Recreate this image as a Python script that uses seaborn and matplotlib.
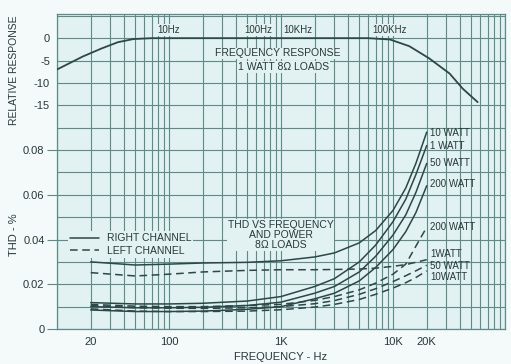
import numpy as np
import pandas as pd
import matplotlib
matplotlib.use("Agg")
import matplotlib.pyplot as plt
import seaborn as sns
from matplotlib.ticker import LogLocator, NullFormatter
from matplotlib.lines import Line2D

# --- data ---
# frequency response curve (1 W, 8 ohm), plotted on the shared log axis
resp_freq = [10, 17, 25, 35, 48, 70, 1000, 6000, 9400, 14000, 21000, 32000, 42000, 57000]
resp_db = [-7.0, -4.1, -2.3, -0.9, -0.2, 0.0, 0.0, 0.0, -0.3, -1.8, -4.5, -7.9, -11.3, -14.3]

# THD vs frequency
thd_freq = [20, 50, 100, 200, 500, 1000, 2000, 3000, 5000, 7000, 10000, 13000, 16000, 20000]
right_10w = [0.0300, 0.0286, 0.0290, 0.0295, 0.0298, 0.0305, 0.0322, 0.0340, 0.0385, 0.0440, 0.0530, 0.0630, 0.0740, 0.0880]
right_1w = [0.0118, 0.0112, 0.0112, 0.0115, 0.0125, 0.0145, 0.0190, 0.0225, 0.0300, 0.0375, 0.0480, 0.0580, 0.0690, 0.0820]
right_50w = [0.0100, 0.0095, 0.0095, 0.0097, 0.0105, 0.0120, 0.0160, 0.0190, 0.0255, 0.0325, 0.0420, 0.0510, 0.0610, 0.0740]
right_200w = [0.0085, 0.0078, 0.0078, 0.0080, 0.0088, 0.0100, 0.0135, 0.0160, 0.0215, 0.0275, 0.0355, 0.0435, 0.0520, 0.0640]
left_1w = [0.0252, 0.0237, 0.0245, 0.0255, 0.0262, 0.0265, 0.0265, 0.0266, 0.0268, 0.0272, 0.0280, 0.0288, 0.0298, 0.0310]
left_200w = [0.0110, 0.0102, 0.0100, 0.0100, 0.0105, 0.0110, 0.0128, 0.0145, 0.0175, 0.0205, 0.0245, 0.0290, 0.0370, 0.0455]
left_50w = [0.0105, 0.0095, 0.0093, 0.0092, 0.0095, 0.0100, 0.0113, 0.0127, 0.0155, 0.0180, 0.0212, 0.0238, 0.0260, 0.0285]
left_10w = [0.0090, 0.0080, 0.0078, 0.0078, 0.0080, 0.0086, 0.0098, 0.0110, 0.0132, 0.0155, 0.0183, 0.0207, 0.0230, 0.0260]

curve_names = ["R 10W", "R 1W", "R 50W", "R 200W", "L 1W", "L 200W", "L 50W", "L 10W"]
curve_channels = ["RIGHT CHANNEL"] * 4 + ["LEFT CHANNEL"] * 4
curve_values = [right_10w, right_1w, right_50w, right_200w, left_1w, left_200w, left_50w, left_10w]

# end labels on the right
end_labels = ["10 WATT", "1 WATT", "50 WATT", "200 WATT", "200 WATT", "1WATT", "50 WATT", "10WATT"]
end_label_thd = [0.0876, 0.0818, 0.0742, 0.0648, 0.0456, 0.0335, 0.0282, 0.0232]

# axis ticks
x_tick_freq = [20, 100, 1000, 10000, 20000]
x_tick_text = ["20", "100", "1K", "10K", "20K"]
thd_ticks = [0, 0.02, 0.04, 0.06, 0.08]
thd_tick_text = ["0", "0.02", "0.04", "0.06", "0.08"]
resp_ticks = [0, -5, -10, -15]
resp_tick_text = ["0", "-5", "-10", "-15"]
top_label_text = ["10Hz", "100Hz", "10KHz", "100KHz"]
top_label_freq = [99, 627, 1420, 9380]

# --- styling ---
bg_plot = "#e2f1f1"
bg_fig = "#f4f9f9"
grid_col = "#5f8a8a"
ink = "#263838"
line_col = "#2c4747"

sns.set_theme(style="ticks")
plt.rcParams["font.family"] = ["Liberation Sans", "DejaVu Sans"]

rows = []
for name, chan, vals in zip(curve_names, curve_channels, curve_values):
    for f, v in zip(thd_freq, vals):
        rows.append({"freq": f, "thd": v, "curve": name, "channel": chan})
thd_df = pd.DataFrame(rows)

fig = plt.figure(figsize=(5.11, 3.64), dpi=100, facecolor=bg_fig)
ax = fig.add_axes([57 / 511, 35 / 364, 448 / 511, 315 / 364])
ax.set_facecolor(bg_plot)
ax.set_xscale("log")

sns.lineplot(data=thd_df, x="freq", y="thd", units="curve", estimator=None,
             style="channel", dashes={"RIGHT CHANNEL": "", "LEFT CHANNEL": (5, 3)},
             color=line_col, linewidth=1.1, legend=False, ax=ax)

ax.set_xlim(10, 100000)
ax.set_ylim(0, 0.1408)
ax.set_xticks(x_tick_freq)
ax.set_xticklabels(x_tick_text)
ax.xaxis.set_minor_locator(LogLocator(base=10, subs=np.arange(1, 10)))
ax.xaxis.set_minor_formatter(NullFormatter())
ax.set_yticks(thd_ticks)
ax.set_yticklabels(thd_tick_text)
ax.set_yticks(np.arange(0, 0.1405, 0.01), minor=True)
ax.grid(True, which="both", color=grid_col, linewidth=0.8)
ax.tick_params(axis="x", which="both", length=0, pad=6, labelsize=8, colors=ink)
ax.tick_params(axis="y", which="major", length=7, width=0.8, color=grid_col, pad=2, labelsize=8, labelcolor=ink)
ax.tick_params(axis="y", which="minor", length=0)
for s in ax.spines.values():
    s.set_color(grid_col)
    s.set_linewidth(0.9)
ax.set_xlabel("FREQUENCY - Hz", fontsize=8, color=ink, labelpad=3)
ax.set_ylabel("THD - %", fontsize=8, color=ink)
ax.yaxis.set_label_coords(-0.085, 0.30)

# relative response on a twin axis, labelled on the left
ax2 = ax.twinx()
ax2.set_ylim(-65, 5.4)
sns.lineplot(x=resp_freq, y=resp_db, color=line_col, linewidth=1.3, ax=ax2)
ax2.set_yticks(resp_ticks)
ax2.set_yticklabels(resp_tick_text)
ax2.yaxis.set_ticks_position("left")
ax2.yaxis.set_label_position("left")
ax2.tick_params(axis="y", length=0, pad=5, labelsize=8, labelcolor=ink)
ax2.grid(False)
for s in ax2.spines.values():
    s.set_visible(False)
ax2.set_ylabel("RELATIVE RESPONSE", fontsize=7.5, color=ink)
ax2.yaxis.set_label_coords(-0.085, 0.82)

for txt, f in zip(top_label_text, top_label_freq):
    ax2.text(f, 1.8, txt, ha="center", va="center", fontsize=7, color=ink,
             bbox=dict(facecolor=bg_plot, edgecolor="none", pad=0.6))
ax2.text(935, -3.4, "FREQUENCY RESPONSE", ha="center", va="center", fontsize=7.5, color=ink,
         bbox=dict(facecolor=bg_plot, edgecolor="none", pad=0.6))
ax2.text(1050, -6.4, "1 WATT 8Ω LOADS", ha="center", va="center", fontsize=7.5, color=ink,
         bbox=dict(facecolor=bg_plot, edgecolor="none", pad=0.6))

ax.text(990, 0.042, "THD VS FREQUENCY\nAND POWER\n8Ω LOADS", ha="center", va="center",
        fontsize=7.5, color=ink, linespacing=1.0,
        bbox=dict(facecolor=bg_plot, edgecolor="none", pad=0.6))

for txt, v in zip(end_labels, end_label_thd):
    ax.text(21500, v, txt, ha="left", va="center", fontsize=7, color=ink)

handles = [Line2D([], [], color=line_col, lw=1.1, linestyle="-"),
           Line2D([], [], color=line_col, lw=1.1, dashes=(5, 3))]
leg = ax.legend(handles, ["RIGHT CHANNEL", "LEFT CHANNEL"], loc="upper left",
                bbox_to_anchor=(0.025, 0.31), fontsize=7.5, handlelength=2.8,
                handletextpad=0.7, labelspacing=0.2, borderpad=0.2, borderaxespad=0,
                frameon=True, fancybox=False)
leg.get_frame().set_facecolor(bg_plot)
leg.get_frame().set_edgecolor("none")
leg.get_frame().set_alpha(1)
for t in leg.get_texts():
    t.set_color(ink)

fig.savefig("out.png", dpi=100, facecolor=bg_fig)
